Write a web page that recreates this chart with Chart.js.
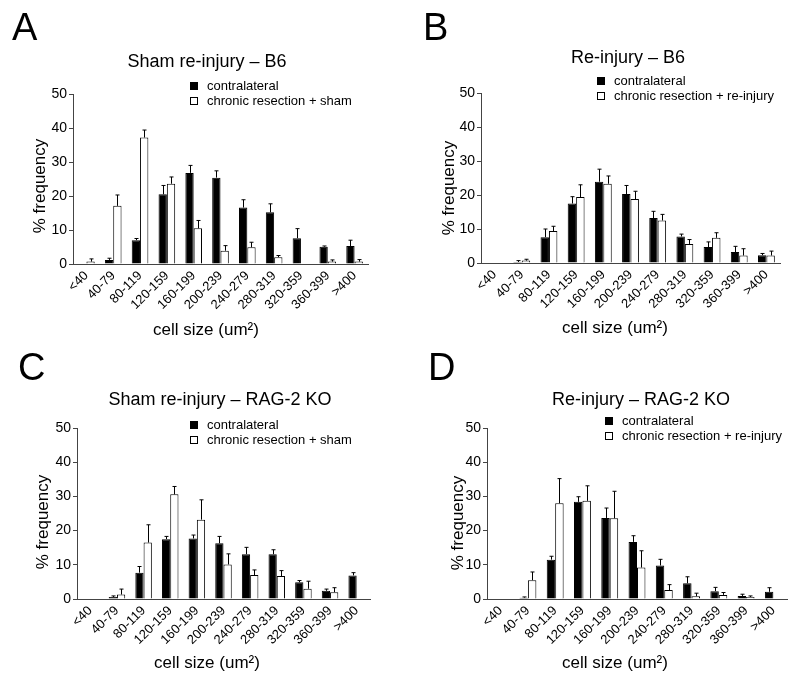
<!DOCTYPE html>
<html>
<head>
<meta charset="utf-8">
<title>Cell size distributions</title>
<script src="https://cdn.jsdelivr.net/npm/chart.js@4.4.1/dist/chart.umd.min.js"></script>
<style>
  body { margin: 0; background: #fff; }
  #wrap { position: relative; width: 800px; height: 680px; }
  #wrap canvas { position: absolute; }
</style>
</head>
<body>
<div id="wrap">
  <canvas id="panelA" width="400" height="340" style="left:0;top:0"></canvas>
  <canvas id="panelB" width="400" height="340" style="left:400px;top:0"></canvas>
  <canvas id="panelC" width="400" height="340" style="left:0;top:340px"></canvas>
  <canvas id="panelD" width="400" height="340" style="left:400px;top:340px"></canvas>
</div>
<script>
var sizeBins = ['<40', '40-79', '80-119', '120-159', '160-199', '200-239',
                '240-279', '280-319', '320-359', '360-399', '>400'];
var yTickValues = [0, 10, 20, 30, 40, 50];
var xAxisTitle = 'cell size (um\u00b2)';
var yAxisTitle = '% frequency';

// A - sham re-injury, B6
var shamB6Contra    = [null, 1.2, 7.0, 20.5, 26.8, 25.4, 16.6, 15.2, 7.6, 5.1, 5.3];
var shamB6ContraErr = [0, 0.5, 0.5, 2.6, 2.2, 2.0, 2.3, 2.5, 2.8, 0.2, 1.7];
var shamB6Resect    = [0.7, 17.1, 37.2, 23.6, 10.5, 3.9, 4.9, 2.0, null, 0.7, 0.7];
var shamB6ResectErr = [0.8, 3.2, 2.2, 2.0, 2.3, 1.5, 1.5, 0.5, 0, 0.5, 0.6];

// B - re-injury, B6
var reinjB6Contra    = [null, 0.3, 7.6, 17.5, 23.9, 20.3, 13.2, 7.8, 4.7, 3.2, 2.3];
var reinjB6ContraErr = [0, 0.4, 2.4, 2.0, 3.7, 2.5, 2.0, 0.7, 1.5, 1.7, 0.5];
var reinjB6Resect    = [null, 0.7, 9.4, 19.4, 23.3, 18.8, 12.5, 5.6, 7.4, 2.2, 2.2];
var reinjB6ResectErr = [0, 0.4, 1.4, 3.6, 2.3, 2.3, 1.8, 1.3, 1.5, 2.0, 1.3];

// C - sham re-injury, RAG-2 KO
var shamRagContra    = [null, 0.6, 7.7, 17.5, 17.7, 16.3, 13.1, 13.1, 4.9, 2.4, 6.9];
var shamRagContraErr = [0, 0.3, 1.8, 0.8, 1.0, 2.0, 2.0, 1.3, 0.5, 0.5, 0.8];
var shamRagResect    = [null, 1.3, 16.5, 30.6, 23.2, 10.1, 7.0, 6.7, 3.0, 2.0, null];
var shamRagResectErr = [0, 1.6, 5.2, 2.3, 5.8, 3.1, 1.5, 1.6, 2.2, 1.3, 0];

// D - re-injury, RAG-2 KO
var reinjRagContra    = [null, 0.4, 11.5, 28.4, 23.7, 16.7, 9.8, 4.6, 2.3, 0.9, 2.1];
var reinjRagContraErr = [0, 0.2, 1.0, 1.5, 2.9, 1.8, 1.8, 1.9, 1.1, 0.5, 1.2];
var reinjRagResect    = [null, 5.5, 28.0, 28.7, 23.6, 9.2, 2.6, 0.8, 1.2, 0.6, null];
var reinjRagResectErr = [0, 2.4, 7.2, 4.4, 7.9, 4.9, 1.6, 0.9, 0.7, 0.3, 0];

var FONT = "'Liberation Sans', Arial, Helvetica, sans-serif";

// upper error bars with a small cap
var errorBars = {
    id: 'errorBars',
    afterDatasetsDraw: function (chart) {
        var ctx = chart.ctx;
        var yScale = chart.scales.y;
        ctx.save();
        ctx.strokeStyle = '#000';
        ctx.lineWidth = 1;
        chart.data.datasets.forEach(function (ds, i) {
            chart.getDatasetMeta(i).data.forEach(function (bar, j) {
                var v = ds.data[j], e = ds.errors[j];
                if (v == null || !e) return;
                var top = yScale.getPixelForValue(v + e);
                var x = Math.round(bar.x) + 0.5;
                ctx.beginPath();
                ctx.moveTo(x, bar.y);
                ctx.lineTo(x, top);
                ctx.moveTo(x - 2, top);
                ctx.lineTo(x + 2, top);
                ctx.stroke();
            });
        });
        ctx.restore();
    }
};

// panel letter, title, legend and axis titles
var panelDecor = {
    id: 'panelDecor',
    afterDraw: function (chart, args, o) {
        var ctx = chart.ctx;
        ctx.save();
        ctx.fillStyle = '#000';
        ctx.textBaseline = 'alphabetic';
        ctx.textAlign = 'left';
        ctx.font = '38px ' + FONT;
        ctx.fillText(o.letter, o.letterX, 40);

        ctx.textAlign = 'center';
        ctx.font = '18px ' + FONT;
        ctx.fillText(o.title, o.titleX, o.titleY);

        ctx.textAlign = 'left';
        ctx.textBaseline = 'middle';
        ctx.font = '13px ' + FONT;
        ctx.strokeStyle = '#000';
        ctx.lineWidth = 1;
        chart.data.datasets.forEach(function (ds, i) {
            var y = o.legendY + i * 15;
            ctx.fillStyle = ds.backgroundColor;
            ctx.fillRect(o.legendX + 0.5, Math.round(y) - 3.5, 7, 7);
            ctx.strokeRect(o.legendX + 0.5, Math.round(y) - 3.5, 7, 7);
            ctx.fillStyle = '#000';
            ctx.fillText(ds.label, o.legendX + 17, y);
        });

        ctx.textAlign = 'center';
        ctx.font = '17px ' + FONT;
        ctx.fillText(xAxisTitle, o.xTitleX, o.xTitleY);
        ctx.translate(o.yTitleX, o.yTitleY);
        ctx.rotate(-Math.PI / 2);
        ctx.fillText(yAxisTitle, 0, 0);
        ctx.restore();
    }
};

function createPanel(canvasId, p, contra, contraErr, resect, resectErr) {
    var ctx = document.getElementById(canvasId).getContext('2d');
    return new Chart(ctx, {
        type: 'bar',
        data: {
            labels: sizeBins,
            datasets: [{
                label: 'contralateral',
                data: contra,
                errors: contraErr,
                backgroundColor: '#000',
                borderColor: '#000',
                borderWidth: 1
            }, {
                label: p.resectLabel,
                data: resect,
                errors: resectErr,
                backgroundColor: '#fff',
                borderColor: '#000',
                borderWidth: 1
            }]
        },
        options: {
            responsive: false,
            animation: false,
            events: [],
            layout: { padding: { left: 0, top: p.top, right: 400 - p.right, bottom: 0 } },
            datasets: { bar: { categoryPercentage: 0.62, barPercentage: 1 } },
            plugins: {
                legend: { display: false },
                title: { display: false },
                tooltip: { enabled: false },
                panelDecor: p
            },
            scales: {
                x: {
                    grid: { display: false, drawTicks: false },
                    border: { display: true, color: '#444', width: 1 },
                    ticks: {
                        color: '#000',
                        font: { family: FONT, size: 13 },
                        minRotation: 45,
                        maxRotation: 45,
                        autoSkip: false,
                        padding: 4
                    },
                    afterFit: function (s) { s.height = 340 - p.bottom; }
                },
                y: {
                    min: 0,
                    max: 50,
                    grid: { display: true, drawOnChartArea: false, drawTicks: true, tickLength: 4, color: '#444' },
                    border: { display: true, color: '#444', width: 1 },
                    ticks: { color: '#000', font: { family: FONT, size: 14 }, padding: 2 },
                    afterBuildTicks: function (s) {
                        s.ticks = yTickValues.map(function (v) { return { value: v }; });
                    },
                    afterFit: function (s) { s.width = p.left; }
                }
            }
        },
        plugins: [errorBars, panelDecor]
    });
}

createPanel('panelA', {
    letter: 'A', letterX: 12, title: 'Sham re-injury \u2013 B6', titleX: 207, titleY: 67,
    resectLabel: 'chronic resection + sham', legendX: 190, legendY: 86,
    left: 73, right: 368, top: 94, bottom: 264,
    xTitleX: 206, xTitleY: 330, yTitleX: 40, yTitleY: 186
}, shamB6Contra, shamB6ContraErr, shamB6Resect, shamB6ResectErr);

createPanel('panelB', {
    letter: 'B', letterX: 23, title: 'Re-injury \u2013 B6', titleX: 228, titleY: 63,
    resectLabel: 'chronic resection + re-injury', legendX: 197, legendY: 81,
    left: 81, right: 380, top: 93, bottom: 263,
    xTitleX: 215, xTitleY: 328, yTitleX: 49, yTitleY: 188
}, reinjB6Contra, reinjB6ContraErr, reinjB6Resect, reinjB6ResectErr);

createPanel('panelC', {
    letter: 'C', letterX: 18, title: 'Sham re-injury \u2013 RAG-2 KO', titleX: 220, titleY: 65,
    resectLabel: 'chronic resection + sham', legendX: 190, legendY: 85,
    left: 77, right: 370, top: 88, bottom: 259,
    xTitleX: 207, xTitleY: 323, yTitleX: 43, yTitleY: 182
}, shamRagContra, shamRagContraErr, shamRagResect, shamRagResectErr);

createPanel('panelD', {
    letter: 'D', letterX: 28, title: 'Re-injury \u2013 RAG-2 KO', titleX: 241, titleY: 65,
    resectLabel: 'chronic resection + re-injury', legendX: 205, legendY: 81,
    left: 87, right: 387, top: 88, bottom: 259,
    xTitleX: 215, xTitleY: 323, yTitleX: 58, yTitleY: 183
}, reinjRagContra, reinjRagContraErr, reinjRagResect, reinjRagResectErr);
</script>
</body>
</html>
